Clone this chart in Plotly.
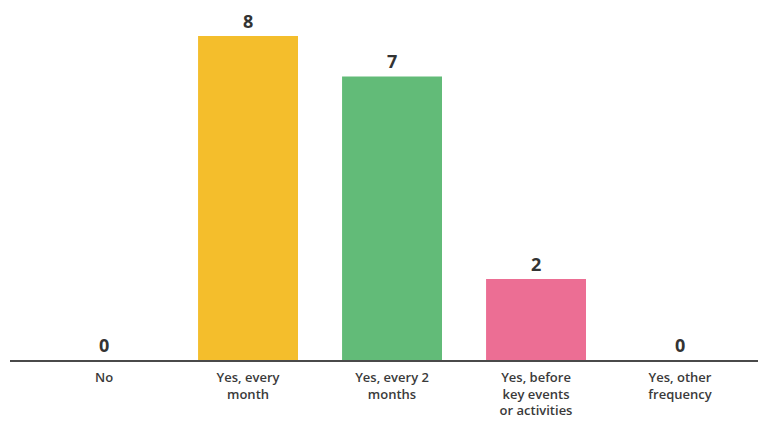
import plotly.graph_objects as go

categories = ["No", "Yes, every<br>month", "Yes, every 2<br>months",
              "Yes, before<br>key events<br>or activities", "Yes, other<br>frequency"]
values = [0, 8, 7, 2, 0]
colors = ["#F4BE2C", "#F4BE2C", "#62BB78", "#EC6E94", "#F4BE2C"]

fig = go.Figure(go.Bar(
    x=list(range(len(categories))), y=values,
    marker=dict(color=colors, line=dict(width=0)),
    text=["<b>%d</b>" % v for v in values], textposition="outside",
    textfont=dict(family="Open Sans", size=18, color="#333333"),
    cliponaxis=False,
))
fig.update_layout(
    width=758, height=415,
    margin=dict(l=2, r=0, t=0, b=63),
    paper_bgcolor="white", plot_bgcolor="white",
    bargap=0.306,
    showlegend=False,
    font=dict(family="Open Sans", color="#333333"),
)
fig.update_xaxes(
    range=[-0.653, 4.597], tickmode="array",
    tickvals=list(range(len(categories))), ticktext=categories,
    tickfont=dict(size=13, color="#3a3a3a", weight=600),
    ticklabelstandoff=4,
    showline=True, linecolor="#4a4a4a", linewidth=2,
    showgrid=False, zeroline=False, ticks="",
)
fig.update_yaxes(range=[0, 8.691], visible=False, showgrid=False, zeroline=False)
fig.write_html("out.html")
